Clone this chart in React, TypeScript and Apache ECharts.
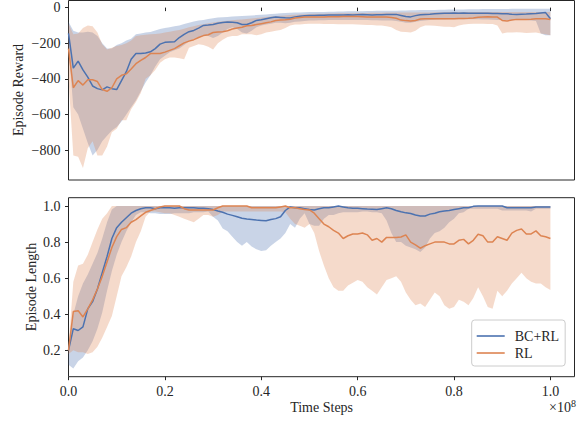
import React, { useEffect, useRef } from "react";
import * as echarts from "echarts";

// x positions (in units of 1e8 time steps)
const steps = [
  0, 0.01, 0.02, 0.03, 0.04, 0.05, 0.06, 0.07, 0.08, 0.09,
  0.1, 0.11, 0.12, 0.13, 0.14, 0.15, 0.16, 0.17, 0.18, 0.19,
  0.2, 0.21, 0.22, 0.23, 0.24, 0.25, 0.26, 0.27, 0.28, 0.29,
  0.3, 0.31, 0.32, 0.33, 0.34, 0.35, 0.36, 0.37, 0.38, 0.39,
  0.4, 0.41, 0.42, 0.43, 0.44, 0.45, 0.46, 0.47, 0.48, 0.49,
  0.5, 0.51, 0.52, 0.53, 0.54, 0.55, 0.56, 0.57, 0.58, 0.59,
  0.6, 0.61, 0.62, 0.63, 0.64, 0.65, 0.66, 0.67, 0.68, 0.69,
  0.7, 0.71, 0.72, 0.73, 0.74, 0.75, 0.76, 0.77, 0.78, 0.79,
  0.8, 0.81, 0.82, 0.83, 0.84, 0.85, 0.86, 0.87, 0.88, 0.89,
  0.9, 0.91, 0.92, 0.93, 0.94, 0.95, 0.96, 0.97, 0.98, 0.99, 1.0,
];

// ---- Episode Reward ----
const rewardBcMean = [
  -145, -340, -300, -350, -390, -440, -455, -462, -445, -455,
  -460, -410, -360, -290, -258, -258, -255, -248, -230, -205,
  -195, -193, -192, -168, -150, -135, -128, -115, -100, -98,
  -95, -88, -83, -81, -82, -85, -95, -95, -85, -72,
  -68, -62, -57, -53, -55, -57, -58, -52, -48, -45,
  -44, -44, -43, -43, -42, -42, -41, -41, -40, -41,
  -40, -39, -40, -41, -40, -40, -39, -38, -38, -44,
  -50, -52, -45, -40, -38, -37, -35, -33, -32, -31,
  -30, -31, -30, -31, -32, -31, -31, -32, -33, -33,
  -34, -35, -37, -38, -37, -36, -34, -33, -30, -28, -62,
];
const rewardBcUpper = [
  -80, -130, -140, -140, -135, -140, -160, -200, -230, -230,
  -210, -200, -185, -175, -150, -145, -140, -137, -128, -120,
  -115, -110, -105, -100, -92, -85, -78, -73, -70, -64,
  -60, -56, -54, -52, -50, -48, -47, -45, -44, -42,
  -40, -38, -36, -34, -32, -30, -29, -28, -27, -26,
  -25, -25, -24, -24, -23, -23, -22, -22, -21, -21,
  -20, -20, -19, -19, -18, -18, -18, -17, -17, -16,
  -16, -15, -15, -14, -14, -13, -13, -12, -12, -11,
  -10, -10, -10, -9, -9, -9, -8, -8, -8, -8,
  -8, -8, -7, -7, -7, -7, -6, -6, -6, -6, -6,
];
const rewardBcLower = [
  -220, -560, -600, -680, -760, -830, -800, -750, -720, -690,
  -670, -640, -600, -560, -520, -470, -420, -380, -330, -290,
  -270, -250, -240, -230, -210, -190, -175, -165, -160, -160,
  -170, -160, -140, -120, -110, -120, -140, -145, -130, -110,
  -100, -95, -90, -85, -85, -88, -85, -80, -78, -75,
  -72, -72, -71, -71, -70, -70, -70, -70, -70, -70,
  -70, -70, -70, -71, -71, -72, -72, -73, -75, -80,
  -85, -85, -80, -75, -72, -70, -68, -67, -66, -65,
  -65, -65, -65, -65, -65, -65, -66, -67, -68, -69,
  -70, -70, -70, -70, -70, -70, -72, -75, -145, -155, -155,
];
const rewardRlMean = [
  -230, -450, -410, -435, -405, -405, -415, -460, -470, -450,
  -400, -380, -372, -345, -315, -296, -280, -258, -258, -258,
  -250, -240, -230, -214, -198, -188, -180, -168, -157, -152,
  -140, -137, -135, -130, -120, -115, -110, -102, -100, -95,
  -90, -85, -80, -72, -70, -68, -65, -58, -55, -53,
  -53, -53, -52, -52, -51, -51, -51, -50, -50, -50,
  -50, -51, -52, -52, -53, -52, -53, -55, -60, -70,
  -73, -75, -72, -64, -63, -63, -62, -62, -62, -62,
  -62, -61, -61, -60, -58, -54, -52, -51, -52, -53,
  -72, -75, -70, -66, -66, -66, -65, -63, -62, -62, -67,
];
const rewardRlUpper = [
  -90, -150, -145, -115, -100, -105, -140, -205, -235, -225,
  -215, -210, -200, -185, -160, -155, -152, -150, -148, -145,
  -140, -135, -130, -125, -118, -110, -104, -98, -93, -88,
  -84, -80, -77, -74, -71, -68, -66, -64, -61, -58,
  -55, -52, -50, -48, -46, -44, -42, -40, -38, -37,
  -36, -35, -34, -34, -33, -33, -32, -32, -31, -31,
  -30, -30, -30, -29, -29, -29, -28, -28, -28, -28,
  -28, -28, -28, -27, -27, -27, -26, -26, -26, -25,
  -25, -25, -25, -25, -25, -25, -25, -25, -25, -25,
  -25, -25, -25, -25, -25, -25, -25, -25, -25, -25, -25,
];
const rewardRlLower = [
  -400, -830, -837, -900, -790, -750, -830, -830, -780, -700,
  -680, -632, -632, -570, -530, -480, -400, -380, -350, -310,
  -290, -280, -280, -285, -290, -225, -215, -205, -210, -220,
  -235, -200, -180, -165, -160, -160, -150, -150, -150, -155,
  -150, -140, -135, -130, -125, -115, -100, -95, -95, -92,
  -90, -90, -91, -92, -92, -92, -93, -93, -94, -94,
  -95, -96, -97, -98, -100, -100, -105, -110, -125, -135,
  -137, -140, -130, -110, -100, -100, -102, -105, -107, -108,
  -110, -100, -95, -92, -90, -90, -91, -92, -92, -100,
  -145, -140, -139, -138, -140, -142, -141, -140, -145, -150, -155,
];

// ---- Episode Length ----
const lengthBcMean = [
  0.2, 0.32, 0.31, 0.33, 0.43, 0.47, 0.54, 0.63, 0.72, 0.82,
  0.88, 0.91, 0.935, 0.96, 0.975, 0.985, 0.99, 0.99, 0.985, 0.99,
  0.99, 0.99, 0.988, 0.99, 0.99, 0.99, 0.99, 0.988, 0.988, 0.985,
  0.98, 0.972, 0.965, 0.955, 0.948, 0.94, 0.932, 0.928, 0.925, 0.922,
  0.92, 0.918, 0.925, 0.93, 0.94, 0.975, 0.995, 0.99, 0.99, 0.985,
  0.98, 0.978, 0.985, 0.99, 0.99, 0.995, 1.0, 0.995, 0.99, 0.987,
  0.987, 0.985, 0.983, 0.982, 0.98, 0.985, 0.99, 0.985, 0.975, 0.968,
  0.962, 0.958, 0.95, 0.945, 0.945, 0.955, 0.96, 0.968, 0.972, 0.975,
  0.98, 0.985, 0.99, 0.99, 0.998, 1.0, 1.0, 1.0, 1.0, 1.0,
  1.0, 0.99, 0.99, 0.99, 0.99, 0.99, 0.99, 0.995, 0.995, 0.995, 0.995,
];
const lengthBcUpper = [
  0.22, 0.4, 0.5, 0.57, 0.62, 0.68, 0.74, 0.82, 0.91, 0.98,
  1, 1, 1, 1, 1, 1, 1, 1, 1, 1,
  1, 1, 1, 1, 1, 1, 1, 1, 1, 1,
  1, 1, 1, 1, 1, 1, 1, 1, 1, 1,
  1, 1, 1, 1, 1, 1, 1, 1, 1, 1,
  1, 1, 1, 1, 1, 1, 1, 1, 1, 1,
  1, 1, 1, 1, 1, 1, 1, 1, 1, 1,
  1, 1, 1, 1, 1, 1, 1, 1, 1, 1,
  1, 1, 1, 1, 1, 1, 1, 1, 1, 1,
  1, 1, 1, 1, 1, 1, 1, 1, 1, 1, 1,
];
const lengthBcLower = [
  0.12, 0.1, 0.14, 0.16, 0.2, 0.25, 0.32, 0.41, 0.53, 0.64,
  0.73, 0.8, 0.86, 0.91, 0.95, 0.965, 0.965, 0.96, 0.96, 0.955,
  0.955, 0.955, 0.96, 0.96, 0.96, 0.96, 0.965, 0.965, 0.965, 0.97,
  0.94, 0.92, 0.875, 0.86, 0.83, 0.8, 0.78, 0.8, 0.775, 0.76,
  0.75, 0.755, 0.78, 0.8, 0.82, 0.85, 0.9, 0.88, 0.93, 0.96,
  0.9, 0.89, 0.89, 0.93, 0.95, 0.95, 0.96, 0.965, 0.965, 0.965,
  0.965, 0.97, 0.97, 0.965, 0.965, 0.96, 0.92, 0.85, 0.8, 0.8,
  0.78, 0.77, 0.76, 0.745, 0.77, 0.82, 0.85, 0.86, 0.88, 0.91,
  0.93, 0.96, 0.965, 0.985, 0.985, 0.985, 0.985, 0.985, 0.985, 0.985,
  0.975, 0.975, 0.975, 0.975, 0.975, 0.975, 0.97, 0.985, 0.985, 0.985, 0.985,
];
const lengthRlMean = [
  0.2, 0.415, 0.42, 0.385, 0.43, 0.48, 0.54, 0.61, 0.69, 0.77,
  0.83, 0.87, 0.88, 0.91, 0.925, 0.945, 0.965, 0.975, 0.985, 0.995,
  1.0, 1.0, 1.0, 1.0, 0.985, 0.978, 0.978, 0.978, 0.978, 0.978,
  0.978, 0.99, 1.0, 1.0, 1.0, 1.0, 1.0, 1.0, 0.99, 0.99,
  0.99, 0.99, 0.99, 0.99, 0.995, 1.0, 0.99, 0.99, 0.985, 0.98,
  0.978, 0.96, 0.93, 0.9, 0.885, 0.865, 0.85, 0.82, 0.835, 0.845,
  0.845, 0.85, 0.84, 0.81, 0.82, 0.8, 0.826, 0.825, 0.826, 0.828,
  0.84, 0.8, 0.785, 0.766, 0.78, 0.79, 0.8, 0.8, 0.8, 0.79,
  0.79, 0.81, 0.815, 0.79, 0.81, 0.843, 0.835, 0.8, 0.8, 0.83,
  0.82, 0.81, 0.85, 0.865, 0.872, 0.845, 0.845, 0.862, 0.835, 0.83, 0.82,
];
const lengthRlUpper = [
  0.22, 0.58, 0.67, 0.68, 0.73, 0.8, 0.87, 0.93, 0.96, 1,
  1, 1, 1, 1, 1, 1, 1, 1, 1, 1,
  1, 1, 1, 1, 1, 1, 1, 1, 1, 1,
  1, 1, 1, 1, 1, 1, 1, 1, 1, 1,
  1, 1, 1, 1, 1, 1, 1, 1, 1, 1,
  1, 1, 1, 1, 1, 1, 1, 1, 1, 1,
  1, 1, 1, 1, 1, 1, 1, 1, 1, 1,
  1, 1, 1, 1, 1, 1, 1, 1, 1, 1,
  1, 1, 1, 1, 1, 1, 1, 1, 1, 1,
  1, 1, 1, 1, 1, 1, 1, 1, 1, 1, 1,
];
const lengthRlLower = [
  0.18, 0.2, 0.19, 0.19, 0.18, 0.19, 0.22, 0.27, 0.33, 0.39,
  0.5, 0.61, 0.66, 0.72, 0.8, 0.86, 0.94, 0.97, 0.97, 0.965,
  0.96, 0.96, 0.95, 0.94, 0.93, 0.92, 0.91, 0.93, 0.95, 0.95,
  0.94, 0.95, 0.97, 0.97, 0.97, 0.97, 0.97, 0.97, 0.97, 0.97,
  0.97, 0.97, 0.97, 0.97, 0.97, 0.965, 0.93, 0.9, 0.89, 0.88,
  0.9, 0.85, 0.75, 0.67, 0.6, 0.55, 0.53, 0.53, 0.56, 0.575,
  0.59, 0.58, 0.55, 0.53, 0.51, 0.55, 0.59, 0.6, 0.61, 0.58,
  0.52, 0.48, 0.45, 0.46, 0.44, 0.48, 0.52, 0.5, 0.45, 0.43,
  0.44, 0.48, 0.47, 0.45, 0.49, 0.55, 0.5, 0.44, 0.43, 0.53,
  0.5, 0.53, 0.57, 0.6, 0.63, 0.6, 0.58, 0.57, 0.57, 0.55, 0.535,
];

const xTicks = [0, 0.2, 0.4, 0.6, 0.8, 1.0];
const rewardTicks = [0, -200, -400, -600, -800];
const lengthTicks = [0.2, 0.4, 0.6, 0.8, 1.0];

const BLUE = "#4c72b0";
const ORANGE = "#dd8452";
const BLUE_BAND = "rgba(76,114,176,0.3)";
const ORANGE_BAND = "rgba(221,132,82,0.3)";
const INK = "#262626";
const FONT = "Liberation Serif";
const FS = 14;

function pts(vals: number[]) {
  return steps.map((x, i) => [x, vals[i]]);
}

// shaded band between lower and upper, drawn as one polygon through the axis scales
function band(id: string, lower: number[], upper: number[], color: string, idx: number) {
  return {
    type: "custom",
    name: id,
    xAxisIndex: idx,
    yAxisIndex: idx,
    silent: true,
    z: 1,
    data: steps.map((x, i) => [x, lower[i], upper[i]]),
    encode: { x: 0, y: [1, 2] },
    renderItem: (params: any, api: any) => {
      if (params.dataIndex !== 0) return null;
      const top = steps.map((x, i) => api.coord([x, upper[i]]));
      const bottom = steps.map((x, i) => api.coord([x, lower[i]])).reverse();
      return {
        type: "polygon",
        shape: { points: top.concat(bottom) },
        style: { fill: color, stroke: "none" },
      };
    },
  };
}

function line(name: string, vals: number[], color: string, idx: number) {
  return {
    type: "line",
    name,
    xAxisIndex: idx,
    yAxisIndex: idx,
    data: pts(vals),
    symbol: "none",
    showSymbol: false,
    lineStyle: { color, width: 1.5 },
    itemStyle: { color },
    z: 3,
  };
}

export default function App() {
  const ref = useRef<HTMLDivElement>(null);
  useEffect(() => {
    if (!ref.current) return;
    const chart = echarts.init(ref.current, undefined, { renderer: "svg" });
    const xAxisBase = {
      type: "value",
      min: 0,
      max: 1.05,
      splitLine: { show: false },
      axisLine: { show: false },
      axisTick: {
        show: true,
        customValues: xTicks,
        length: 3.5,
        lineStyle: { color: INK, width: 1 },
      },
    };
    const yTickStyle = {
      show: true,
      length: 3.5,
      lineStyle: { color: INK, width: 1 },
    };
    chart.setOption({
      animation: false,
      backgroundColor: "#fff",
      textStyle: { fontFamily: FONT },
      grid: [
        {
          left: 68.5,
          top: 0.5,
          width: 506,
          height: 179.5,
          show: true,
          borderColor: INK,
          borderWidth: 1,
          backgroundColor: "transparent",
        },
        {
          left: 68.5,
          top: 197.7,
          width: 506,
          height: 179,
          show: true,
          borderColor: INK,
          borderWidth: 1,
          backgroundColor: "transparent",
        },
      ],
      xAxis: [
        { ...xAxisBase, gridIndex: 0, axisLabel: { show: false } },
        {
          ...xAxisBase,
          gridIndex: 1,
          axisLabel: {
            show: true,
            customValues: xTicks,
            formatter: (v: number) => v.toFixed(1),
            color: INK,
            fontFamily: FONT,
            fontSize: FS,
            margin: 8,
          },
        },
      ],
      yAxis: [
        {
          type: "value",
          gridIndex: 0,
          min: -968,
          max: 40,
          splitLine: { show: false },
          axisLine: { show: false },
          axisTick: { ...yTickStyle, customValues: rewardTicks },
          axisLabel: {
            customValues: rewardTicks,
            formatter: (v: number) => (v < 0 ? "\u2212" + Math.abs(v) : String(v)),
            color: INK,
            fontFamily: FONT,
            fontSize: FS,
            margin: 8,
          },
        },
        {
          type: "value",
          gridIndex: 1,
          min: 0.054,
          max: 1.046,
          splitLine: { show: false },
          axisLine: { show: false },
          axisTick: { ...yTickStyle, customValues: lengthTicks },
          axisLabel: {
            customValues: lengthTicks,
            formatter: (v: number) => v.toFixed(1),
            color: INK,
            fontFamily: FONT,
            fontSize: FS,
            margin: 8,
          },
        },
      ],
      legend: {
        data: [
          { name: "BC+RL", icon: "rect" },
          { name: "RL", icon: "rect" },
        ],
        orient: "vertical",
        left: 471.7,
        top: 320,
        padding: [9, 6, 6, 5],
        itemGap: 3,
        itemWidth: 28,
        itemHeight: 1.6,
        borderColor: "#cccccc",
        borderWidth: 1,
        borderRadius: 3,
        backgroundColor: "rgba(255,255,255,0.8)",
        textStyle: { color: INK, fontFamily: FONT, fontSize: FS, padding: [0, 0, 0, 5] },
      },
      graphic: [
        {
          type: "text",
          x: 18.5,
          y: 90,
          rotation: Math.PI / 2,
          style: {
            text: "Episode Reward",
            fill: INK,
            font: `${FS}px ${FONT}`,
            align: "center",
            verticalAlign: "middle",
          },
        },
        {
          type: "text",
          x: 31.5,
          y: 287,
          rotation: Math.PI / 2,
          style: {
            text: "Episode Length",
            fill: INK,
            font: `${FS}px ${FONT}`,
            align: "center",
            verticalAlign: "middle",
          },
        },
        {
          type: "text",
          x: 321.6,
          y: 407.5,
          style: {
            text: "Time Steps",
            fill: INK,
            font: `${FS}px ${FONT}`,
            align: "center",
            verticalAlign: "middle",
          },
        },
        {
          type: "text",
          x: 576,
          y: 407,
          style: {
            text: "\u00d710{s|8}",
            fill: INK,
            font: `${FS}px ${FONT}`,
            align: "right",
            verticalAlign: "middle",
            rich: {
              s: { fontSize: 10, fontFamily: FONT, verticalAlign: "top", padding: [0, 0, 7, 0], fill: INK },
            },
          },
        },
      ],
      series: [
        band("bcR", rewardBcLower, rewardBcUpper, BLUE_BAND, 0),
        band("rlR", rewardRlLower, rewardRlUpper, ORANGE_BAND, 0),
        line("BC+RL", rewardBcMean, BLUE, 0),
        line("RL", rewardRlMean, ORANGE, 0),
        band("bcL", lengthBcLower, lengthBcUpper, BLUE_BAND, 1),
        band("rlL", lengthRlLower, lengthRlUpper, ORANGE_BAND, 1),
        line("BC+RL", lengthBcMean, BLUE, 1),
        line("RL", lengthRlMean, ORANGE, 1),
      ],
    });
    return () => chart.dispose();
  }, []);
  return (
    <div
      ref={ref}
      style={{ position: "fixed", left: 0, top: 0, width: 582, height: 421 }}
    />
  );
}
